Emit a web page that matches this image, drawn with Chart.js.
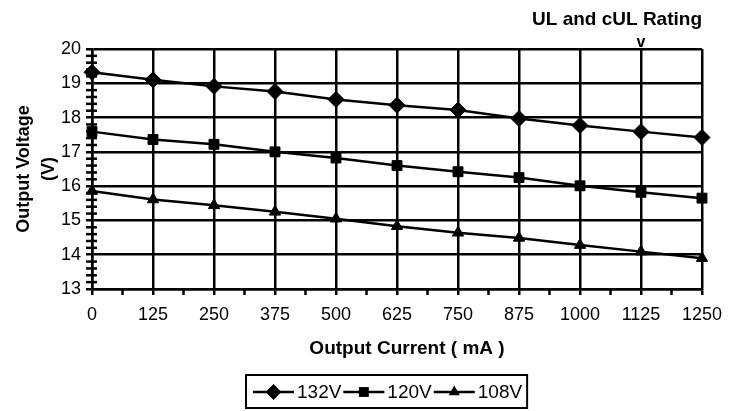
<!DOCTYPE html>
<html><head><meta charset="utf-8">
<script src="https://cdn.jsdelivr.net/npm/chart.js@4/dist/chart.umd.min.js"></script>
<style>html,body{margin:0;padding:0;background:#fff;}</style>
</head><body>
<canvas id="c" width="741" height="411" style="width:741px;height:411px;display:block"></canvas>
<script>
// ---- data ----
const currents = [0, 125, 250, 375, 500, 625, 750, 875, 1000, 1125, 1250];
const v132 = [19.32, 19.10, 18.91, 18.76, 18.53, 18.36, 18.22, 17.97, 17.77, 17.59, 17.42];
const v120 = [17.59, 17.36, 17.22, 17.00, 16.82, 16.60, 16.42, 16.25, 16.01, 15.82, 15.65];
const v108 = [15.86, 15.61, 15.44, 15.25, 15.05, 14.83, 14.64, 14.49, 14.28, 14.09, 13.90];
const seriesLabels = ['132V', '120V', '108V'];
const pointStyles = ['rectRot', 'rect', 'triangle'];
const pointSizes = [8, 7, 6.5];
const xTitle = 'Output Current ( mA )';
const yTitle = ['Output Voltage', '(V)'];
const noteText = 'UL and cUL Rating';
const noteMark = 'v';
const noteAt = 1125;

const FONT = '"Liberation Sans", Arial, sans-serif';
const seriesValues = [v132, v120, v108];

const datasets = seriesValues.map((vals, i) => ({
  label: seriesLabels[i],
  data: currents.map((c, j) => ({x: c, y: vals[j]})),
  borderColor: '#000',
  backgroundColor: '#000',
  borderWidth: 2.5,
  pointStyle: pointStyles[i],
  pointRadius: pointSizes[i],
  pointHoverRadius: pointSizes[i],
  pointBackgroundColor: '#000',
  pointBorderColor: '#000',
  pointBorderWidth: 1,
  tension: 0,
  clip: false
}));

function drawMarker(ctx, style, x, y, r) {
  ctx.beginPath();
  if (style === 'rectRot') {
    ctx.moveTo(x, y - r); ctx.lineTo(x + r, y); ctx.lineTo(x, y + r); ctx.lineTo(x - r, y);
  } else if (style === 'rect') {
    const s = r * Math.SQRT1_2;
    ctx.rect(x - s, y - s, 2 * s, 2 * s);
  } else {
    const h = r * Math.cos(Math.PI / 6);
    ctx.moveTo(x, y - r); ctx.lineTo(x + h, y + r / 2); ctx.lineTo(x - h, y + r / 2);
  }
  ctx.closePath();
  ctx.fill();
}

const extras = {
  id: 'extras',
  afterDraw(chart) {
    const ctx = chart.ctx;
    const xs = chart.scales.x, ys = chart.scales.y;
    const area = chart.chartArea;
    ctx.save();
    ctx.strokeStyle = '#000';
    ctx.fillStyle = '#000';
    ctx.lineWidth = 2.5;
    // minor y ticks (crossing the axis)
    for (let v = ys.min; v < ys.max - 1e-9; v += 1) {
      for (let k = 1; k < 5; k++) {
        const py = ys.getPixelForValue(v + k * 0.2);
        ctx.beginPath(); ctx.moveTo(area.left - 6, py); ctx.lineTo(area.left + 5, py); ctx.stroke();
      }
    }
    // minor x ticks (below axis)
    for (let v = xs.min; v < xs.max - 1e-9; v += 125) {
      const px = xs.getPixelForValue(v + 62.5);
      ctx.beginPath(); ctx.moveTo(px, area.bottom); ctx.lineTo(px, area.bottom + 6); ctx.stroke();
    }
    // x title
    ctx.font = 'bold 19px ' + FONT;
    ctx.textAlign = 'center';
    ctx.textBaseline = 'alphabetic';
    ctx.fillText(xTitle, (area.left + area.right) / 2 + 10, 354);
    // annotation
    ctx.textAlign = 'right';
    ctx.fillText(noteText, xs.getPixelForValue(xs.max), 25);
    ctx.font = 'bold 16px ' + FONT;
    ctx.textAlign = 'center';
    ctx.fillText(noteMark, xs.getPixelForValue(noteAt), 47);
    // legend
    ctx.font = '19px ' + FONT;
    ctx.textAlign = 'left';
    ctx.textBaseline = 'middle';
    const ly = 392;
    const left = 246;
    let x = left + 7;
    chart.data.datasets.forEach((ds) => {
      ctx.beginPath(); ctx.moveTo(x, ly); ctx.lineTo(x + 41, ly); ctx.stroke();
      drawMarker(ctx, ds.pointStyle, x + 20.5, ly, ds.pointRadius);
      const tx = x + 44;
      ctx.fillText(ds.label, tx, ly + 1);
      x = tx + ctx.measureText(ds.label).width + 2;
    });
    ctx.lineWidth = 2;
    ctx.strokeRect(left, 375, x + 3 - left, 33);
    ctx.restore();
  }
};

new Chart(document.getElementById('c'), {
  type: 'line',
  data: {datasets},
  plugins: [extras],
  options: {
    responsive: false,
    animation: false,
    events: [],
    layout: {padding: {left: 0, top: 49, right: 39, bottom: 52}},
    plugins: {legend: {display: false}, tooltip: {enabled: false}, title: {display: false}},
    scales: {
      x: {
        type: 'linear', min: 0, max: 1250,
        afterFit(s) { s.height = 70; },
        ticks: {stepSize: 125, color: '#000', font: {family: FONT, size: 18}, padding: 9, maxRotation: 0, autoSkip: false,
                callback: (v) => String(v)},
        grid: {color: '#000', lineWidth: 2.5, tickLength: 6, tickColor: '#000'},
        border: {color: '#000', width: 2.5}
      },
      y: {
        type: 'linear', min: 13, max: 20,
        afterFit(s) { s.width = 92; },
        ticks: {stepSize: 1, color: '#000', font: {family: FONT, size: 18}, padding: 5, callback: (v) => String(v)},
        grid: {color: '#000', lineWidth: 2.5, tickLength: 6, tickColor: '#000'},
        border: {color: '#000', width: 2.5},
        title: {display: true, text: yTitle, color: '#000', font: {family: FONT, size: 18, weight: 'bold', lineHeight: 1.4}, padding: {top: 11, bottom: 0}}
      }
    }
  }
});
</script>
</body></html>
